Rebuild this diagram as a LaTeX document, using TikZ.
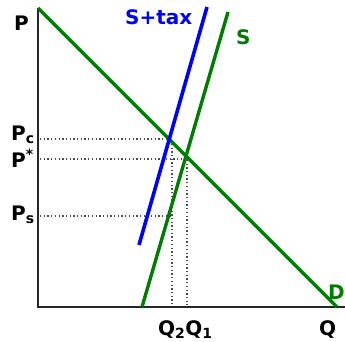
\documentclass[tikz,border=0pt]{standalone}
\usepackage{fontspec}
\setmainfont{DejaVu Sans}
\usetikzlibrary{positioning}
\definecolor{curvegreen}{RGB}{0,125,0}

\begin{document}
\begin{tikzpicture}[
		x=1pt, y=-1pt,
		every node/.style={
			font=\fontsize{20}{24}\selectfont\bfseries,
			inner sep=0pt,
			anchor=base west
		},
		axis/.style={line width=2.6pt, black!85},
		curve/.style={line width=3.4pt, curvegreen},
		taxline/.style={line width=3.6pt, blue},
		guide/.style={dash pattern=on 1.3pt off 2.4pt, line width=1.1pt, black!70}
		]
		
		\useasboundingbox (0,0) rectangle (345,342);
		
		% axes
		\coordinate (origin) at (38,307);
		\coordinate (ptop) at (38,8);
		\coordinate (qend) at (345,307);
		\draw[axis] (ptop)--(origin)--(qend);
		
		% demand, supply and supply plus tax
		\coordinate (dtop) at (38,8);
		\coordinate (dbot) at (337,307);
		\coordinate (sbot) at (142,307);
		\coordinate (stop) at (228,12);
		\coordinate (tbot) at (139,245);
		\coordinate (ttop) at (207,7);
		
		% guides
		\coordinate (pcleft) at (40,139);
		\coordinate (pcpt) at (172,139);
		\coordinate (pstarleft) at (40,159);
		\coordinate (eqpt) at (187,159);
		\coordinate (psleft) at (40,216);
		\coordinate (pspt) at (172,216);
		\coordinate (qtwo) at (172,305);
		\coordinate (qone) at (187,305);
		
		\draw[guide] (pcleft)--(pcpt)--(qtwo);
		\draw[guide] (pstarleft)--(eqpt)--(qone);
		\draw[guide] (psleft)--(pspt);
		
		\draw[curve] (dtop)--(dbot);
		\draw[curve] (sbot)--(stop);
		\draw[taxline] (tbot)--(ttop);
		
		% labels
		\node (plabel) at (14,31) {P};
		\node (pclabel) at (11,140) {P\textsubscript{c}};
		\node (pstarlabel) at (11,167) {P\textsuperscript{*}};
		\node (pslabel) at (11,220) {P\textsubscript{s}};
		\node (qlabel) at (158,335) {Q\textsubscript{2}Q\textsubscript{1}};
		\node (qaxis) at (319,335) {Q};
		\node[text=curvegreen] (slabel) at (236,45) {S};
		\node[text=blue] (taxlabel) at (125,25) {S+tax};
		\node[text=curvegreen] (dlabel) at (328,299) {D};
		
	\end{tikzpicture}
\end{document}
